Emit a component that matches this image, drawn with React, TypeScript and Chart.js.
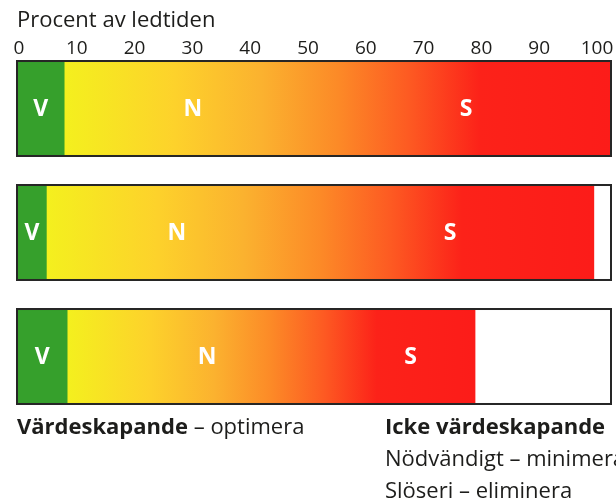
import React, { useEffect, useRef } from 'react';
import { Chart, registerables } from 'chart.js';

Chart.register(...registerables);

// ---- data ----
const categories = ['Läge 1', 'Läge 2', 'Läge 3'];
const vardeskapande = [8, 5, 8.5]; // V
const nodvandigt = [43.2, 43.8, 47]; // N
const sloseri = [48.8, 48.2, 21.5]; // S
const tickValues = [0, 10, 20, 30, 40, 50, 60, 70, 80, 90, 100];
const axisTitle = 'Procent av ledtiden';

const FONT = '"Open Sans", "Noto Sans", sans-serif';
const TEXT = '#1d1d1b';
const GREEN = '#36a02c';
const STOPS: [number, string][] = [
  [0, '#f4f01e'],
  [0.2, '#fdd22b'],
  [0.36, '#fbb22f'],
  [0.5, '#fc8a27'],
  [0.63, '#fd5a22'],
  [0.76, '#fc2219'],
  [1, '#fc1c19'],
];

function gradientFor(ctx: any) {
  const chart = ctx.chart;
  if (!chart.chartArea) return '#fbb22f';
  const x = chart.scales.x;
  const i = ctx.dataIndex;
  const start = x.getPixelForValue(vardeskapande[i]);
  const end = x.getPixelForValue(vardeskapande[i] + nodvandigt[i] + sloseri[i]);
  const g = chart.ctx.createLinearGradient(start, 0, end, 0);
  STOPS.forEach(([o, c]) => g.addColorStop(o, c));
  return g;
}

const framePlugin = {
  id: 'framesAndLetters',
  afterDatasetsDraw(chart: any) {
    const { ctx } = chart;
    const x = chart.scales.x;
    const meta0 = chart.getDatasetMeta(0);
    ctx.save();
    ctx.strokeStyle = '#262626';
    ctx.lineWidth = 2;
    meta0.data.forEach((bar: any) => {
      const { y, height } = bar.getProps(['y', 'height'], true);
      const x0 = x.getPixelForValue(0);
      const x1 = x.getPixelForValue(100);
      ctx.strokeRect(x0, y - height / 2, x1 - x0, height);
    });
    ctx.fillStyle = '#ffffff';
    ctx.font = `bold 23px ${FONT}`;
    ctx.textAlign = 'center';
    ctx.textBaseline = 'middle';
    chart.data.datasets.forEach((ds: any, di: number) => {
      const m = chart.getDatasetMeta(di);
      m.data.forEach((bar: any) => {
        const { x: bx, base, y } = bar.getProps(['x', 'base', 'y'], true);
        ctx.fillText(ds.label, (bx + base) / 2, y + 1);
      });
    });
    ctx.restore();
  },
};

export default function App() {
  const ref = useRef<HTMLCanvasElement | null>(null);

  useEffect(() => {
    document.body.style.margin = '0';
    if (!ref.current) return;
    const chart = new Chart(ref.current, {
      type: 'bar',
      data: {
        labels: categories,
        datasets: [
          { label: 'V', data: vardeskapande, backgroundColor: GREEN, borderWidth: 0 },
          { label: 'N', data: nodvandigt, backgroundColor: gradientFor as any, borderWidth: 0, inflateAmount: 1 },
          { label: 'S', data: sloseri, backgroundColor: gradientFor as any, borderWidth: 0, inflateAmount: 1 },
        ],
      },
      options: {
        indexAxis: 'y',
        responsive: false,
        maintainAspectRatio: false,
        animation: false,
        layout: { padding: { left: 17, right: 5, top: 0, bottom: 81.5 } },
        datasets: { bar: { barPercentage: 0.766, categoryPercentage: 1 } },
        plugins: {
          legend: { display: false },
          tooltip: { enabled: false },
          title: {
            display: true,
            text: axisTitle,
            align: 'start',
            color: TEXT,
            font: { family: FONT, size: 22, weight: 'normal' },
            padding: { top: 8, bottom: 0 },
          },
        },
        scales: {
          x: { type: 'linear', stacked: true, min: 0, max: 100, display: false },
          x2: {
            type: 'linear',
            position: 'top',
            min: -0.35,
            max: 102.42,
            grid: { display: false, drawTicks: false },
            border: { display: false },
            afterBuildTicks: (axis: any) => {
              axis.ticks = tickValues.map((v) => ({ value: v }));
            },
            afterFit: (axis: any) => {
              axis.height = 12.1;
            },
            ticks: {
              mirror: true,
              padding: -9.6,
              autoSkip: false,
              maxRotation: 0,
              color: TEXT,
              font: { family: FONT, size: 19 },
            },
          },
          y: { type: 'category', stacked: true, display: false, offset: true },
        },
      } as any,
      plugins: [framePlugin],
    });
    return () => chart.destroy();
  }, []);

  const line: React.CSSProperties = {
    position: 'absolute',
    fontFamily: FONT,
    fontSize: 22,
    lineHeight: '32px',
    color: TEXT,
    whiteSpace: 'nowrap',
  };

  return (
    <div style={{ position: 'relative', width: 616, height: 500, overflow: 'hidden', background: '#fff' }}>
      <canvas ref={ref} width={616} height={500} style={{ display: 'block' }} />
      <div style={{ ...line, left: 17, top: 409 }}>
        <b>Värdeskapande</b> – optimera
      </div>
      <div style={{ ...line, left: 385, top: 409 }}>
        <b>Icke värdeskapande</b>
        <br />
        Nödvändigt – minimera
        <br />
        Slöseri – eliminera
      </div>
    </div>
  );
}
